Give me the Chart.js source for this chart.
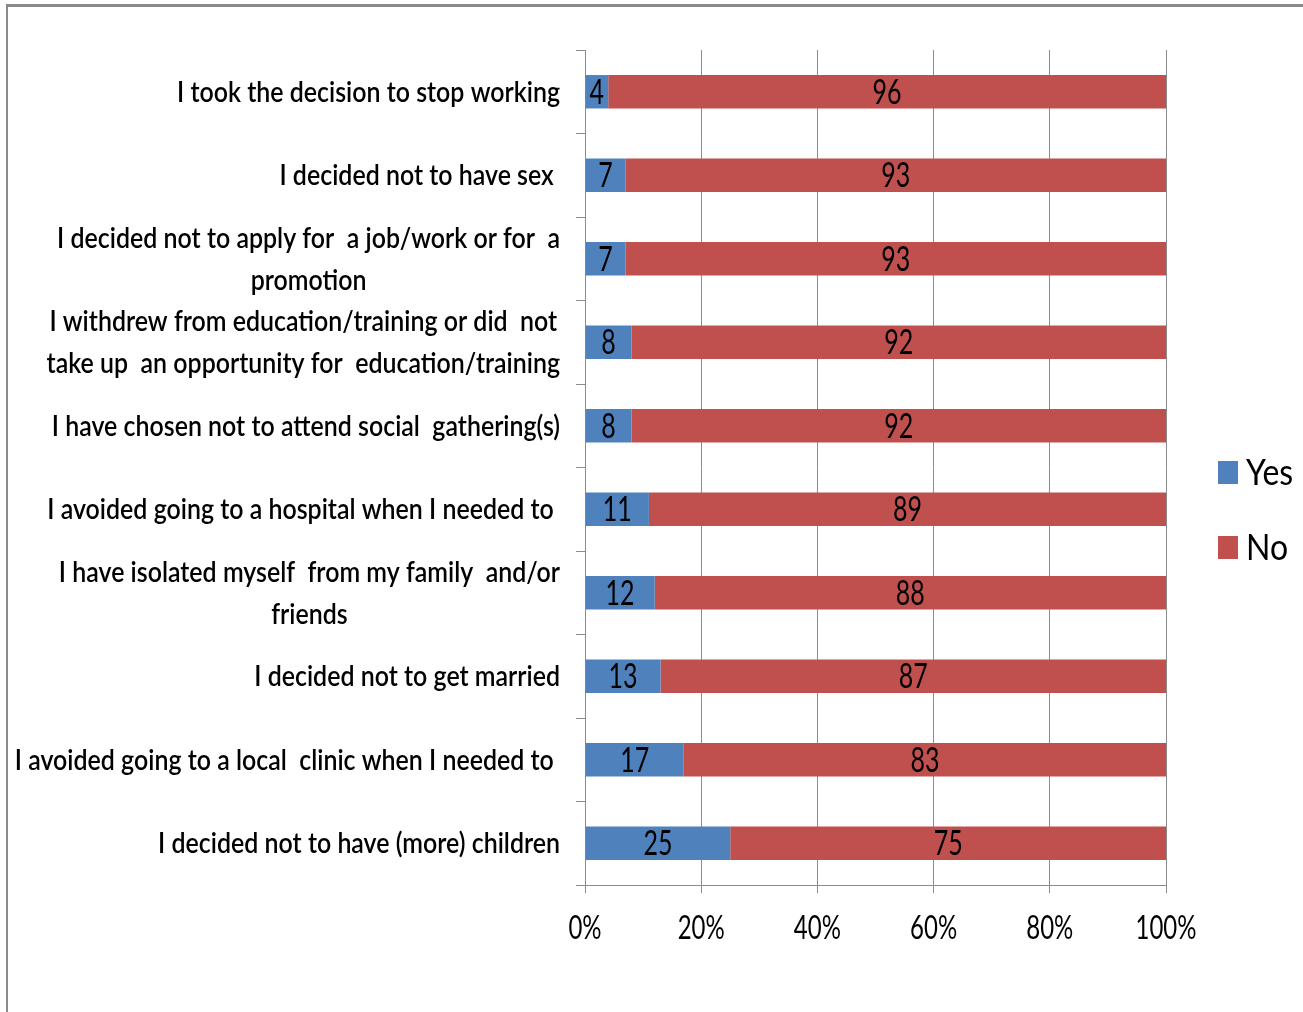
<!DOCTYPE html>
<html><head><meta charset="utf-8">
<script src="https://cdn.jsdelivr.net/npm/chart.js@4.4.1/dist/chart.umd.min.js"></script>
<style>
html,body{margin:0;padding:0;background:#fff;overflow:hidden;}
#wrap{position:absolute;left:0;top:0;width:1303px;height:1012px;}
#frame{position:absolute;left:6px;top:4px;width:1400px;height:1100px;border-left:2px solid #8a8a8a;border-top:3px solid #8a8a8a;}
canvas{position:absolute;left:0;top:0;}
</style></head>
<body><div id="wrap"><div id="frame"></div><canvas id="c" width="1303" height="1012"></canvas></div>
<script>
const categories = [
  "I took the decision to stop working",
  "I decided not to have sex ",
  ["I decided not to apply for  a job/work or for  a", "promotion"],
  ["I withdrew from education/training or did  not", "take up  an opportunity for  education/training"],
  "I have chosen not to attend social  gathering(s)",
  "I avoided going to a hospital when I needed to ",
  ["I have isolated myself  from my family  and/or", "friends"],
  "I decided not to get married",
  "I avoided going to a local  clinic when I needed to ",
  "I decided not to have (more) children"
];
const yesValues = [4, 7, 7, 8, 8, 11, 12, 13, 17, 25];
const noValues = [96, 93, 93, 92, 92, 89, 88, 87, 83, 75];
const seriesNames = ["Yes", "No"];
const seriesColors = ["#4F81BD", "#C0504D"];
const xTickLabels = ["0%", "20%", "40%", "60%", "80%", "100%"];

const FONT = 'Lato, "Open Sans", "DejaVu Sans Condensed", sans-serif';
const LABELFONT = '600 28px ' + FONT;

let SX = 1;

function drawScaled(c, text, x, y, sx, align) {
  c.save();
  c.textAlign = align || 'center';
  c.textBaseline = 'middle';
  c.translate(x, y);
  c.scale(sx, 1);
  c.fillText(text, 0, 0);
  c.restore();
}

const customText = {
  id: 'customText',
  afterDatasetsDraw(chart) {
    const c = chart.ctx;
    c.save();
    c.font = LABELFONT;
    SX = 383 / c.measureText(categories[0]).width;
    // value labels inside bars
    c.font = '34px ' + FONT;
    const dsx = 29 / c.measureText('00').width;
    c.fillStyle = '#000';
    chart.data.datasets.forEach((ds, di) => {
      const meta = chart.getDatasetMeta(di);
      meta.data.forEach((bar, i) => {
        const p = bar.getProps(['x', 'y', 'base'], true);
        drawScaled(c, String(ds.data[i]), (p.x + p.base) / 2, p.y + 1, dsx);
      });
    });
    c.restore();
  },
  afterDraw(chart) {
    const c = chart.ctx;
    const ys = chart.scales.y;
    const xs = chart.scales.x;
    c.save();
    c.fillStyle = '#000';
    // category labels
    c.font = LABELFONT;
    const rightX = ys.right - 25;
    const lineH = 42;
    categories.forEach((lab, i) => {
      const lines = Array.isArray(lab) ? lab : [lab];
      const widths = lines.map(l => c.measureText(l).width * SX);
      const blockW = Math.max(...widths);
      const cx = rightX - blockW / 2;
      const yc = ys.getPixelForValue(i) + 1;
      lines.forEach((l, j) => {
        drawScaled(c, l, cx, yc + (j - (lines.length - 1) / 2) * lineH, SX);
      });
    });
    // x tick labels
    c.font = '32px ' + FONT;
    const tsx = 61 / c.measureText('100%').width;
    xs.ticks.forEach((t, i) => {
      drawScaled(c, xTickLabels[i], xs.getPixelForValue(t.value), xs.top + 44, tsx);
    });
    // legend
    const la = chart.chartArea;
    const midY = (la.top + la.bottom) / 2;
    c.font = '37px ' + FONT;
    seriesNames.forEach((name, k) => {
      const y = midY + 5.5 + k * 75;
      c.fillStyle = seriesColors[k];
      c.fillRect(la.right + 52, y - 12, 20, 23);
      c.fillStyle = '#000';
      drawScaled(c, name, la.right + 80, y, SX * 0.97, 'left');
    });
    c.restore();
  }
};

new Chart(document.getElementById('c'), {
  type: 'bar',
  data: {
    labels: categories,
    datasets: seriesNames.map((n, k) => ({
      label: n,
      data: k === 0 ? yesValues : noValues,
      backgroundColor: seriesColors[k],
      borderWidth: 0,
      barPercentage: 0.4,
      categoryPercentage: 1
    }))
  },
  options: {
    indexAxis: 'y',
    responsive: false,
    animation: false,
    layout: { padding: { left: 0, right: 137, top: 50, bottom: 0 } },
    plugins: { legend: { display: false }, tooltip: { enabled: false } },
    scales: {
      x: {
        stacked: true, min: 0, max: 100,
        ticks: {
          stepSize: 20,
          callback: (v, i) => xTickLabels[i],
          font: { family: FONT, size: 26 },
          color: 'rgba(0,0,0,0)',
          padding: 23
        },
        grid: { color: '#8c8c8c', lineWidth: 1, tickLength: 8, drawTicks: true },
        border: { color: '#8c8c8c' },
        afterFit: (s) => { s.height = 1012 - 885; }
      },
      y: {
        stacked: true,
        ticks: { display: false },
        grid: { drawOnChartArea: false, drawTicks: true, tickLength: 9, color: '#8c8c8c', offset: true },
        border: { color: '#8c8c8c' },
        afterFit: (s) => { s.width = 585; }
      }
    }
  },
  plugins: [customText]
});
</script>
</body></html>
